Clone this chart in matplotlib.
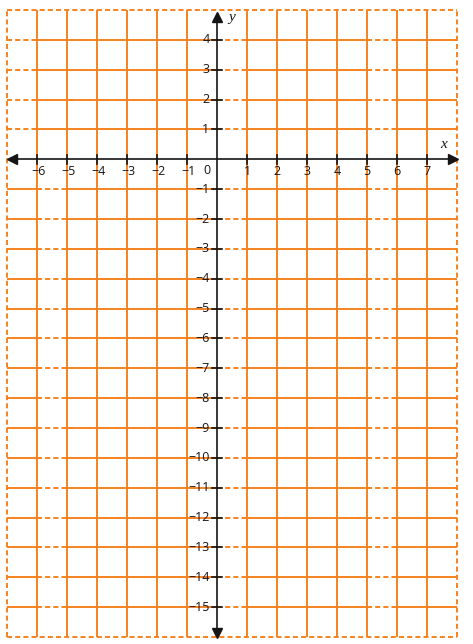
import matplotlib.pyplot as plt

# axis ranges and tick labels
x_min, x_max = -7, 8
y_min, y_max = -16, 5
x_ticks = [-6, -5, -4, -3, -2, -1, 1, 2, 3, 4, 5, 6, 7]
y_ticks = [4, 3, 2, 1, -1, -2, -3, -4, -5, -6, -7, -8, -9, -10, -11, -12, -13, -14, -15]
grid_x = list(range(-6, 8))
grid_y = list(range(-15, 5))
dashed_cols_top = [-7, 0, 5]      # cells where horizontal lines are dashed (y > 0)
dashed_cols_bottom = [-6, 0, 5]   # same, below the x axis

orange = '#F5821F'
ink = '#151515'
dash = (0, (2.6, 1.6))

fig = plt.figure(figsize=(4.73, 6.44), dpi=100)
ax = fig.add_axes([7 / 473, 7 / 644, 450 / 473, 627 / 644])
ax.set_xlim(x_min, x_max)
ax.set_ylim(y_min, y_max)
ax.set_axis_off()

# vertical grid lines
for gx in grid_x:
    if gx == 0:
        continue
    ax.plot([gx, gx], [y_min, y_max], color=orange, lw=1.4, zorder=1)

# horizontal grid lines, cell by cell
for gy in grid_y:
    if gy == 0:
        continue
    dashed = dashed_cols_top if gy > 0 else dashed_cols_bottom
    for c in range(x_min, x_max):
        ls = dash if c in dashed else '-'
        ax.plot([c, c + 1], [gy, gy], color=orange, lw=1.4, ls=ls, zorder=1)

# dashed border
for xs, ys in [([x_min, x_max], [y_max, y_max]), ([x_min, x_max], [y_min, y_min]),
               ([x_min, x_min], [y_min, y_max]), ([x_max, x_max], [y_min, y_max])]:
    ax.plot(xs, ys, color=orange, lw=1.4, ls=dash, zorder=1, clip_on=False)

# axes with arrows
ax.plot([x_min + 0.1, x_max - 0.1], [0, 0], color=ink, lw=1.2, zorder=3)
ax.plot([0, 0], [y_min + 0.1, y_max - 0.2], color=ink, lw=1.2, zorder=3)
ax.plot([x_min + 0.15], [0], marker='<', color=ink, ms=6.5, zorder=4, clip_on=False)
ax.plot([x_max - 0.15], [0], marker='>', color=ink, ms=6.5, zorder=4, clip_on=False)
ax.plot([0], [y_max - 0.25], marker='^', color=ink, ms=6.5, zorder=4, clip_on=False)
ax.plot([0], [y_min + 0.15], marker='v', color=ink, ms=6.5, zorder=4, clip_on=False)

font = ['Open Sans', 'DejaVu Sans']
for t in x_ticks:
    ax.plot([t, t], [-0.15, 0.15], color=ink, lw=1.2, zorder=3)
    lab = f'\u2212{-t}' if t < 0 else str(t)
    ax.text(t + (0.05 if t < 0 else 0), -0.42, lab, ha='center', va='center',
            fontsize=9, color=ink, family=font, zorder=5)
for t in y_ticks:
    ax.plot([-0.17, 0.17], [t, t], color=ink, lw=1.2, zorder=3)
    lab = f'\u2212{-t}' if t < 0 else str(t)
    ax.text(-0.25, t, lab, ha='right', va='center',
            fontsize=9, color=ink, family=font, zorder=5)
ax.text(-0.33, -0.37, '0', ha='center', va='center', fontsize=9, color=ink,
        family=font, zorder=5)

ax.text(7.55, 0.5, 'x', ha='center', va='center', fontsize=11, style='italic',
        color=ink, family=['Liberation Serif', 'DejaVu Serif'])
ax.text(0.48, 4.75, 'y', ha='center', va='center', fontsize=11, style='italic',
        color=ink, family=['Liberation Serif', 'DejaVu Serif'])

fig.savefig('out.png', dpi=100, facecolor='white')
